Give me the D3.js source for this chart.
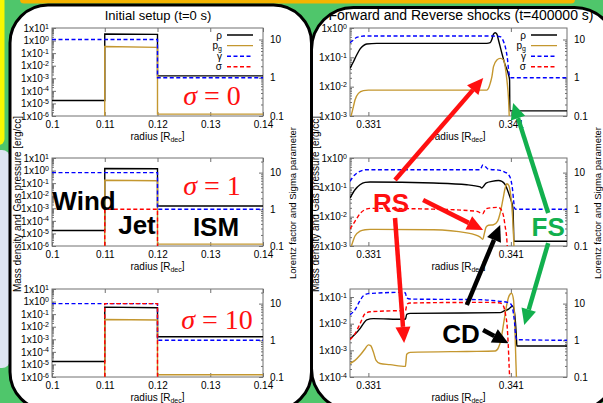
<!DOCTYPE html>
<html>
<head>
<meta charset="utf-8">
<script src="https://cdn.jsdelivr.net/npm/d3@7"></script>
<style>
  html, body { margin: 0; padding: 0; background: #4fc66b; }
  svg { display: block; font-family: 'Liberation Sans', Arial, sans-serif; }
</style>
</head>
<body>
<div id="chart"></div>
<script>
// ---------------- data ----------------
const legendLabels = ['ρ', 'p_g', 'γ', 'σ'];
const sigmaCases = ['0', '1', '10'];
const regionNames = ['Wind', 'Jet', 'ISM'];
const shockNames = ['RS', 'FS', 'CD'];

// initial setup: step profiles wind | jet | ISM
const initRadius = [0.1, 0.11, 0.11, 0.12, 0.12, 0.14];
const initRho = [
  [1.7e-5, 1.7e-5, 3.3, 3.1, 1.55e-3, 1.55e-3],
  [1.7e-5, 1.7e-5, 1.45, 1.4, 1.5e-3, 1.5e-3],
  [1.7e-5, 1.7e-5, 0.36, 0.32, 1.6e-3, 1.6e-3]
];
const initPg = [
  [1e-8, 1e-8, 0.34, 0.29, 1.4e-6, 1.4e-6],
  [1e-8, 1e-8, 0.17, 0.155, 1.4e-6, 1.4e-6],
  [1e-8, 1e-8, 0.037, 0.034, 1.5e-6, 1.5e-6]
];
const initGamma = [
  [10, 10, 10, 10, 1, 1],
  [10, 10, 10, 10, 1, 1],
  [10, 10, 10, 10, 1, 1]
];
const initSigma = [
  [0, 0, 0, 0, 0, 0],
  [0, 0, 1, 1, 0, 0],
  [0, 0, 10, 10, 0, 0]
];

// t = 400000 s profiles, [radius, value]
const shockRho = [
  [[0.32971,0.042],[0.32995,0.071],[0.33018,0.12],[0.33041,0.19],[0.33065,0.25],[0.33088,0.285],[0.33159,0.30],[0.33931,0.30],[0.33955,0.315],[0.33967,0.41],[0.33978,0.62],[0.3399,0.69],[0.34002,0.62],[0.34013,0.39],[0.34037,0.137],[0.3406,0.055],[0.34084,0.025],[0.34091,0.017],[0.34093,1.5e-3],[0.34494,1.5e-3]],
  [[0.32971,0.043],[0.33006,0.083],[0.33041,0.123],[0.33077,0.148],[0.33112,0.152],[0.33557,0.14],[0.33791,0.123],[0.33885,0.103],[0.33896,0.095],[0.33908,0.108],[0.33926,0.14],[0.33967,0.16],[0.34013,0.17],[0.34037,0.16],[0.3406,0.123],[0.34084,0.064],[0.341,0.038],[0.34114,0.02],[0.34119,4e-3],[0.34121,1.45e-3],[0.34494,1.45e-3]],
  [[0.32971,2.7e-3],[0.33006,4e-3],[0.33041,6.5e-3],[0.33065,0.01],[0.33088,0.014],[0.33135,0.0155],[0.33346,0.0146],[0.3336,0.0146],[0.33369,0.0224],[0.33393,0.0244],[0.34025,0.026],[0.34053,0.03],[0.34084,0.035],[0.341,0.042],[0.34112,0.046],[0.34123,0.032],[0.34133,0.01],[0.3414,2.4e-3],[0.34142,1.45e-3],[0.34494,1.45e-3]]
];
const shockPg = [
  [[0.32971,7e-4],[0.32995,2.1e-3],[0.33006,3.5e-3],[0.3303,5.9e-3],[0.33065,7.3e-3],[0.331,7.6e-3],[0.33931,7.6e-3],[0.33943,8.8e-3],[0.33955,0.013],[0.33967,0.022],[0.33978,0.048],[0.34002,0.081],[0.34025,0.092],[0.34049,0.081],[0.3406,0.048],[0.34072,0.017],[0.34084,3.5e-3],[0.34091,5e-4]],
  [[0.32971,7e-4],[0.32995,1.6e-3],[0.33006,2.2e-3],[0.33041,3.2e-3],[0.33077,3.6e-3],[0.33112,3.7e-3],[0.33557,3.6e-3],[0.33791,2.8e-3],[0.33885,2e-3],[0.33903,1.7e-3],[0.33915,2.8e-3],[0.33926,4.4e-3],[0.33943,5.1e-3],[0.33978,5.3e-3],[0.34006,6.9e-3],[0.34025,0.0133],[0.34044,0.038],[0.3406,0.095],[0.34072,0.133],[0.34086,0.114],[0.341,0.049],[0.34112,0.0102],[0.34119,2.1e-3],[0.34123,7e-4]],
  [[0.32971,3.2e-4],[0.33006,4.2e-4],[0.33041,6.5e-4],[0.33077,1.15e-3],[0.331,1.6e-3],[0.33116,1.5e-3],[0.33135,8.7e-4],[0.33154,4.2e-4],[0.33182,3.2e-4],[0.33252,2.9e-4],[0.3336,2.5e-4],[0.33369,7.1e-4],[0.33393,8.4e-4],[0.33791,9.1e-4],[0.3399,9.4e-4],[0.34013,1.26e-3],[0.3403,2.4e-3],[0.34049,0.01],[0.34068,0.042],[0.34086,0.106],[0.34105,0.138],[0.34119,0.075],[0.34128,7.5e-3],[0.34135,4.2e-4],[0.3414,7e-5]]
];
const shockGamma = [
  [[0.32971,8.3],[0.32995,9.7],[0.33018,11.4],[0.33041,11.9],[0.33065,12.4],[0.33955,12.4],[0.34025,11.9],[0.34037,10.8],[0.34053,8],[0.34066,5.3],[0.34077,2.9],[0.34084,1.6],[0.34091,1.11],[0.341,1.0],[0.34494,1.0]],
  [[0.32971,5.8],[0.33006,8.8],[0.33041,10.8],[0.33088,12],[0.33885,12],[0.33903,16.1],[0.33924,14.2],[0.3394,12.5],[0.34025,11.5],[0.3406,10.2],[0.34084,8.8],[0.341,6.4],[0.34112,3.4],[0.34119,1.8],[0.34126,1.08],[0.34133,1.0],[0.34494,1.0]],
  [[0.32971,5.0],[0.33006,6.8],[0.33038,11.5],[0.33065,16.4],[0.331,18.7],[0.33346,20.3],[0.3336,19.4],[0.33369,14.2],[0.33393,13.3],[0.33885,12.8],[0.34025,11.5],[0.34077,10.8],[0.341,9.7],[0.34114,6.8],[0.34126,3.0],[0.34133,1.4],[0.34142,1.04],[0.34494,1.0]]
];
const shockSigma = [
  [],
  [[0.32971,0.29],[0.33006,0.47],[0.33041,0.76],[0.33077,0.98],[0.33112,1.06],[0.33557,1.01],[0.33861,0.88],[0.33903,0.76],[0.3392,0.98],[0.33943,1.08],[0.34013,1.13],[0.34032,0.98],[0.34049,0.64],[0.3406,0.34],[0.3407,0.18],[0.34077,0.07]],
  [[0.32971,1.04],[0.33006,1.5],[0.33041,2.8],[0.33077,5.3],[0.33112,6.0],[0.33346,6.4],[0.3336,6.4],[0.33371,9.7],[0.33393,10.4],[0.33931,10.8],[0.34025,10.4],[0.34049,8.4],[0.34063,5.0],[0.34074,2.4],[0.34081,0.84],[0.34088,0.19],[0.34093,0.07]]
];

const initXTicks = [0.1, 0.11, 0.12, 0.13, 0.14];
const shockXTicks = [0.331, 0.341];
const y2Ticks = [0.1, 1, 10];

// ---------------- layout / style ----------------
const W = 603, H = 403;
const plotTops = [28, 158, 289];
const plotH = 88;
const red = '#ff1010', green = '#12b04e';
const styles = [
  { color: '#000', dash: null, axis: 'y' },
  { color: '#c4972f', dash: null, axis: 'y' },
  { color: '#0000ff', dash: '4,2.5', axis: 'y2' },
  { color: '#ff0000', dash: '4,2.5', axis: 'y2' }
];

const panels = [
  {
    title: 'Initial setup (t=0 s)', titleSize: 13, titleX: 158,
    x0: 52, x1: 263, xDomain: [0.1, 0.14], xTicks: initXTicks,
    yDomains: [[1e-6, 10], [1e-6, 10], [1e-6, 10]],
    y2Domains: [[0.1, 20], [0.1, 25], [0.1, 25]],
    curve: d3.curveLinear, ylabX: 17, y2labX: 293,
    series: k => [initRho, initPg, initGamma, initSigma]
      .map(s => initRadius.map((r, j) => [r, s[k][j]]))
  },
  {
    title: 'Forward and Reverse shocks (t=400000 s)', titleSize: 14, titleX: 461,
    x0: 350, x1: 567, xDomain: [0.32971, 0.34494], xTicks: shockXTicks,
    yDomains: [[1e-3, 1], [1e-3, 1], [1e-4, 0.2]],
    y2Domains: [[0.1, 20], [0.1, 25], [0.1, 25]],
    curve: d3.curveMonotoneX, ylabX: 315, y2labX: 598,
    series: k => [shockRho[k], shockPg[k], shockGamma[k], shockSigma[k]]
  }
];

const svg = d3.select('#chart').append('svg')
  .attr('width', W).attr('height', H);
const defs = svg.append('defs');

// background decoration
svg.append('rect').attr('width', W).attr('height', H).attr('fill', '#4fc66b');
svg.append('rect').attr('x', 20).attr('y', -10).attr('width', 555).attr('height', 13.5)
  .attr('rx', 4).attr('fill', '#f4b400');
svg.append('rect').attr('x', -10).attr('y', -10).attr('width', 14.5).attr('height', 155)
  .attr('rx', 6).attr('fill', '#f8f800');
svg.append('rect').attr('x', -10).attr('y', 150).attr('width', 20).attr('height', 218)
  .attr('rx', 8).attr('fill', '#dde5f1');

const panelShapes = [
  { x: 10, y: 5, w: 301.5, h: 405, r: 38 },
  { x: 311.5, y: 7.5, w: 305, h: 403, r: 42 }
];
panelShapes.forEach((p, i) => {
  defs.append('clipPath').attr('id', 'panel' + i).append('rect')
    .attr('x', p.x).attr('y', p.y).attr('width', p.w).attr('height', p.h).attr('rx', p.r);
  svg.append('rect')
    .attr('x', p.x).attr('y', p.y).attr('width', p.w).attr('height', p.h).attr('rx', p.r)
    .attr('fill', '#fff');
});
const layers = panelShapes.map((p, i) => svg.append('g').attr('clip-path', `url(#panel${i})`));

function logTicks(domain) {
  const lo = Math.ceil(Math.log10(domain[0]) - 1e-9);
  const hi = Math.floor(Math.log10(domain[1]) + 1e-9);
  const major = d3.range(lo, hi + 1).map(e => Math.pow(10, e));
  const minor = [];
  for (let e = lo - 1; e <= hi; e++) {
    for (let m = 2; m <= 9; m++) {
      const v = m * Math.pow(10, e);
      if (v > domain[0] * 1.0001 && v < domain[1] * 0.9999) minor.push(v);
    }
  }
  return { major, minor };
}

function styleAxis(g) {
  g.attr('color', '#707070').attr('font-family', "'Liberation Sans', Arial, sans-serif")
    .attr('font-size', 10);
  g.select('.domain').remove();
  g.selectAll('text').attr('fill', '#000');
}

function drawPanel(pi) {
  const P = panels[pi];
  const g = layers[pi];
  g.append('text')
    .attr('x', P.titleX).attr('y', 20)
    .attr('text-anchor', 'middle').attr('font-size', P.titleSize)
    .text(P.title);

  // axis titles
  g.append('text')
    .attr('transform', `translate(${P.ylabX},204) rotate(-90)`)
    .attr('text-anchor', 'middle').attr('dy', '0.35em').attr('font-size', 10)
    .text('Mass density and Gas pressure [erg/cc]');
  g.append('text')
    .attr('transform', `translate(${P.y2labX},203) rotate(-90)`)
    .attr('text-anchor', 'middle').attr('dy', '0.35em').attr('font-size', 9.5)
    .text('Lorentz factor and Sigma parameter');

  const scales = [];
  plotTops.forEach((top, k) => {
    const bottom = top + plotH;
    const x = d3.scaleLinear().domain(P.xDomain).range([P.x0, P.x1]);
    const y = d3.scaleLog().domain(P.yDomains[k]).range([bottom, top]);
    const y2 = d3.scaleLog().domain(P.y2Domains[k]).range([bottom, top]);
    scales.push({ x, y, y2 });

    const clipId = `plot${pi}${k}`;
    defs.append('clipPath').attr('id', clipId).append('rect')
      .attr('x', P.x0).attr('y', top).attr('width', P.x1 - P.x0).attr('height', plotH);

    // x axes (bottom with labels, top mirrored)
    g.append('g').attr('transform', `translate(0,${bottom})`)
      .call(d3.axisBottom(x).tickValues(P.xTicks).tickSizeInner(-4).tickSizeOuter(0)
        .tickPadding(5).tickFormat(d => String(d)))
      .call(styleAxis);
    g.append('g').attr('transform', `translate(0,${top})`)
      .call(d3.axisTop(x).tickValues(P.xTicks).tickSizeInner(-4).tickSizeOuter(0).tickFormat(''))
      .call(styleAxis);

    // left log axis
    const lt = logTicks(P.yDomains[k]);
    g.append('g').attr('transform', `translate(${P.x0},0)`)
      .call(d3.axisLeft(y).tickValues(lt.minor).tickSizeInner(-2).tickSizeOuter(0).tickFormat(''))
      .call(styleAxis);
    g.append('g').attr('transform', `translate(${P.x0},0)`)
      .call(d3.axisLeft(y).tickValues(lt.major).tickSizeInner(-4).tickSizeOuter(0)
        .tickPadding(3).tickFormat(''))
      .call(styleAxis)
      .selectAll('.tick text').each(function (d) {
        const t = d3.select(this);
        t.append('tspan').text('1x10');
        t.append('tspan').attr('dy', '-0.45em').attr('font-size', 7)
          .text(Math.round(Math.log10(d)));
      });

    // right log axis
    const rt = logTicks(P.y2Domains[k]);
    g.append('g').attr('transform', `translate(${P.x1},0)`)
      .call(d3.axisRight(y2).tickValues(rt.minor).tickSizeInner(-2).tickSizeOuter(0).tickFormat(''))
      .call(styleAxis);
    g.append('g').attr('transform', `translate(${P.x1},0)`)
      .call(d3.axisRight(y2).tickValues(y2Ticks).tickSizeInner(-4).tickSizeOuter(0)
        .tickPadding(7).tickFormat(d => String(d)))
      .call(styleAxis);

    // frame
    g.append('rect').attr('x', P.x0).attr('y', top)
      .attr('width', P.x1 - P.x0).attr('height', plotH)
      .attr('fill', 'none').attr('stroke', '#707070').attr('stroke-width', 1);

    // x axis title
    const xt = g.append('text').attr('x', (P.x0 + P.x1) / 2).attr('y', bottom + 24)
      .attr('text-anchor', 'middle').attr('font-size', 10);
    xt.append('tspan').text('radius [R');
    xt.append('tspan').attr('dy', '0.3em').attr('font-size', 7).text('dec');
    xt.append('tspan').attr('dy', '-0.3em').text(']');

    // series
    const data = P.series(k);
    const lines = g.append('g').attr('clip-path', `url(#${clipId})`);
    data.forEach((pts, si) => {
      if (!pts.length) return;
      const st = styles[si];
      const ys = st.axis === 'y' ? y : y2;
      const line = d3.line()
        .x(d => x(d[0]))
        .y(d => (d[1] > 0 ? ys(d[1]) : bottom + 1000))
        .curve(P.curve);
      lines.append('path').attr('d', line(pts))
        .attr('fill', 'none').attr('stroke', st.color)
        .attr('stroke-width', st.dash ? 1.4 : 1.4)
        .attr('stroke-dasharray', st.dash);
    });

    // legend in the top plot
    if (k === 0) {
      legendLabels.forEach((lab, li) => {
        const ly = top + 7 + li * 10.6;
        const t = g.append('text').attr('x', P.x1 - 41).attr('y', ly)
          .attr('dy', '0.35em').attr('text-anchor', 'end').attr('font-size', 10);
        const parts = lab.split('_');
        t.append('tspan').text(parts[0]);
        if (parts[1]) t.append('tspan').attr('dy', '0.3em').attr('font-size', 7).text(parts[1]);
        g.append('line').attr('x1', P.x1 - 36).attr('x2', P.x1 - 10)
          .attr('y1', ly).attr('y2', ly)
          .attr('stroke', styles[li].color).attr('stroke-width', 1.4)
          .attr('stroke-dasharray', styles[li].dash);
      });
    }
  });
  return scales;
}

const leftScales = drawPanel(0);
const rightScales = drawPanel(1);

// ---------------- annotations (data coordinates) ----------------
const at = (sc, k, r, v) => [sc[k].x(r), sc[k].y(v)];

// sigma labels
const sigmaPos = [[0, 0.13033, 4.7e-5], [1, 0.13033, 0.071], [2, 0.13128, 0.041]];
sigmaCases.forEach((s, i) => {
  const [px, py] = at(leftScales, ...sigmaPos[i]);
  const t = layers[0].append('text').attr('x', px).attr('y', py).attr('dy', '0.36em')
    .attr('text-anchor', 'middle').attr('font-size', 28).attr('fill', red)
    .attr('font-family', "'Liberation Serif', 'DejaVu Serif', serif");
  t.append('tspan').attr('font-style', 'italic').text('σ');
  t.append('tspan').text(' = ' + s);
});

// region names
const regionPos = [[1, 0.10607, 3.8e-3], [1, 0.11611, 4.7e-5], [1, 0.13109, 3.2e-5]];
regionNames.forEach((n, i) => {
  const [px, py] = at(leftScales, ...regionPos[i]);
  layers[0].append('text').attr('x', px).attr('y', py).attr('dy', '0.36em')
    .attr('text-anchor', 'middle').attr('font-size', 26).attr('font-weight', 'bold')
    .attr('fill', '#000').text(n);
});

// shock arrows
const arrows = [
  { color: red, from: [1, 0.33287, 0.178], to: [0, 0.33906, 0.0197] },
  { color: red, from: [1, 0.33484, 0.037], to: [1, 0.33905, 3.5e-3] },
  { color: red, from: [1, 0.33287, 9e-3], to: [2, 0.33351, 1.9e-3] },
  { color: green, from: [1, 0.34362, 0.0133], to: [0, 0.34116, 2.8e-3] },
  { color: green, from: [1, 0.34362, 1.26e-3], to: [2, 0.34194, 8.9e-3] },
  { color: '#000', from: [2, 0.33791, 0.0502], to: [1, 0.34025, 5.2e-3] },
  { color: '#000', from: [2, 0.33905, 5.8e-3], to: [2, 0.34083, 1.83e-3] }
];
arrows.forEach(a => {
  const [x1, y1] = at(rightScales, ...a.from);
  const [x2, y2] = at(rightScales, ...a.to);
  const ang = Math.atan2(y2 - y1, x2 - x1);
  const headL = 16, headW = 7.5;
  const bx = x2 - headL * Math.cos(ang), by = y2 - headL * Math.sin(ang);
  const px = -Math.sin(ang) * headW, py = Math.cos(ang) * headW;
  layers[1].append('line').attr('x1', x1).attr('y1', y1).attr('x2', bx).attr('y2', by)
    .attr('stroke', a.color).attr('stroke-width', 4.5);
  layers[1].append('polygon')
    .attr('points', [[x2, y2], [bx + px, by + py], [bx - px, by - py]].map(p => p.join(',')).join(' '))
    .attr('fill', a.color);
});

// shock names
const shockPos = [
  { plot: 1, r: 0.33259, v: 0.0292, color: red },
  { plot: 1, r: 0.34362, v: 4.4e-3, color: green },
  { plot: 2, r: 0.33751, v: 4.1e-3, color: '#000' }
];
shockNames.forEach((n, i) => {
  const s = shockPos[i];
  const [px, py] = at(rightScales, s.plot, s.r, s.v);
  layers[1].append('text').attr('x', px).attr('y', py).attr('dy', '0.36em')
    .attr('text-anchor', 'middle').attr('font-size', 26).attr('font-weight', 'bold')
    .attr('fill', s.color).text(n);
});

// panel borders on top
panelShapes.forEach(p => {
  svg.append('rect')
    .attr('x', p.x).attr('y', p.y).attr('width', p.w).attr('height', p.h).attr('rx', p.r)
    .attr('fill', 'none').attr('stroke', '#000').attr('stroke-width', 3);
});
</script>
</body>
</html>
